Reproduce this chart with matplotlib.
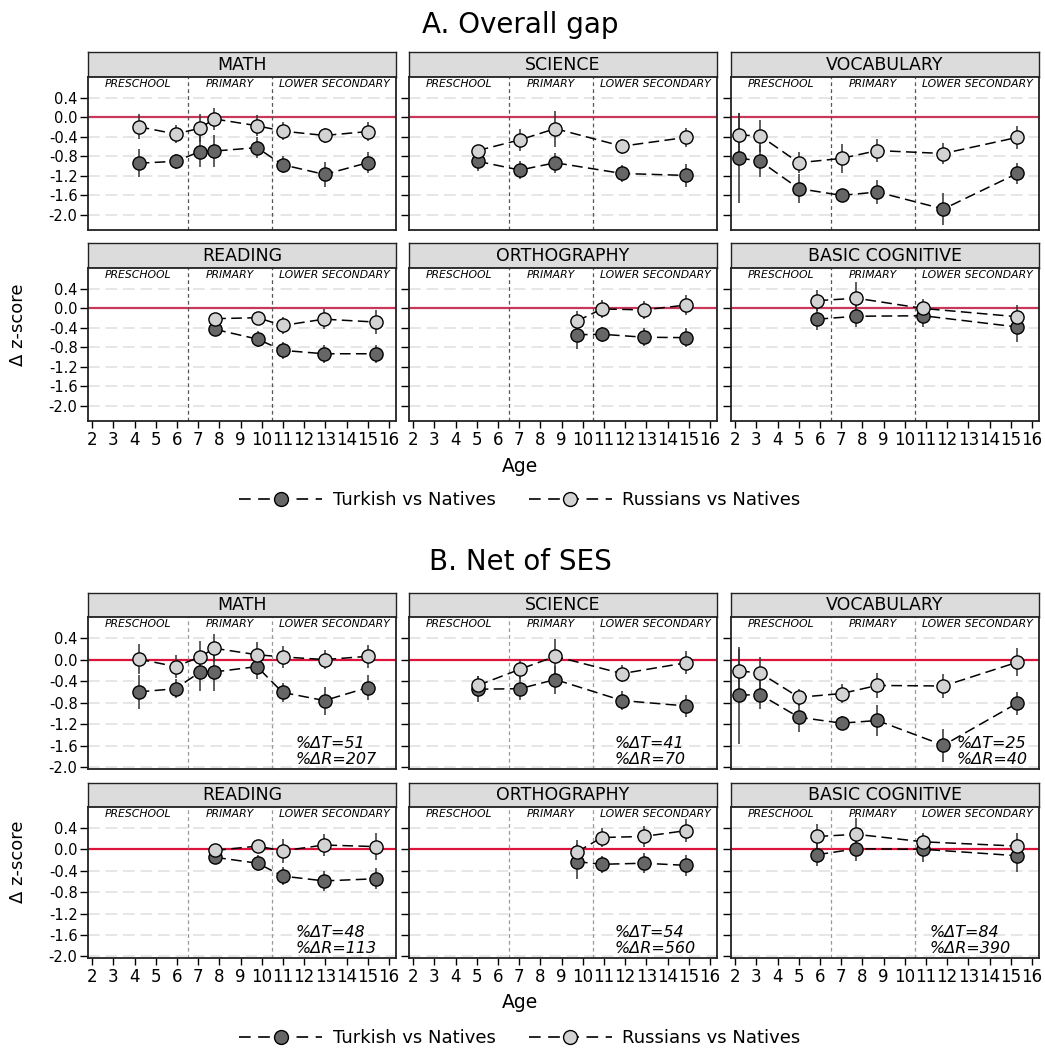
"""Immigrant-native achievement gaps by age, overall and net of SES."""

import numpy as np
import matplotlib
matplotlib.use("Agg")
import matplotlib.pyplot as plt
import matplotlib.transforms as mtransforms
from matplotlib.lines import Line2D

plt.rcParams["font.family"] = ["DejaVu Sans"]

W, H = 1045, 1052

subjects = ["MATH", "SCIENCE", "VOCABULARY", "READING", "ORTHOGRAPHY", "BASIC COGNITIVE"]
age_ticks = list(range(2, 17))
stage_labels = ["PRESCHOOL", "PRIMARY", "LOWER SECONDARY"]
stage_breaks = [6.5, 10.5]
y_ticks = [0.4, 0.0, -0.4, -0.8, -1.2, -1.6, -2.0]

# mean age of each assessment wave
ages = {
    "MATH": [4.19, 5.93, 7.09, 7.75, 9.77, 10.98, 12.96, 14.99],
    "SCIENCE": [5.04, 7.03, 8.70, 11.85, 14.87],
    "VOCABULARY": [2.18, 3.18, 5.00, 7.02, 8.70, 11.82, 15.30],
    "READING": [7.80, 9.80, 10.98, 12.93, 15.40],
    "ORTHOGRAPHY": [9.72, 10.90, 12.87, 14.88],
    "BASIC COGNITIVE": [5.88, 7.72, 10.87, 15.30],
}

# A. overall gap (delta z-score) and CI half-widths
overall_tur = {
    "MATH": [-0.94, -0.90, -0.70, -0.69, -0.62, -0.97, -1.17, -0.93],
    "SCIENCE": [-0.90, -1.08, -0.93, -1.15, -1.19],
    "VOCABULARY": [-0.83, -0.90, -1.46, -1.60, -1.53, -1.88, -1.15],
    "READING": [-0.43, -0.63, -0.86, -0.93, -0.93],
    "ORTHOGRAPHY": [-0.54, -0.53, -0.59, -0.60],
    "BASIC COGNITIVE": [-0.22, -0.16, -0.15, -0.38],
}
overall_tur_err = {
    "MATH": [0.29, 0.16, 0.31, 0.32, 0.21, 0.18, 0.26, 0.22],
    "SCIENCE": [0.20, 0.19, 0.21, 0.17, 0.23],
    "VOCABULARY": [0.93, 0.33, 0.29, 0.10, 0.24, 0.33, 0.21],
    "READING": [0.14, 0.16, 0.18, 0.18, 0.19],
    "ORTHOGRAPHY": [0.30, 0.15, 0.19, 0.20],
    "BASIC COGNITIVE": [0.22, 0.23, 0.24, 0.31],
}
overall_rus = {
    "MATH": [-0.19, -0.34, -0.22, -0.03, -0.17, -0.28, -0.37, -0.29],
    "SCIENCE": [-0.68, -0.46, -0.23, -0.59, -0.41],
    "VOCABULARY": [-0.36, -0.38, -0.93, -0.84, -0.68, -0.74, -0.41],
    "READING": [-0.21, -0.19, -0.35, -0.22, -0.28],
    "ORTHOGRAPHY": [-0.26, -0.01, -0.03, 0.07],
    "BASIC COGNITIVE": [0.16, 0.21, 0.00, -0.17],
}
overall_rus_err = {
    "MATH": [0.26, 0.18, 0.29, 0.22, 0.22, 0.19, 0.16, 0.20],
    "SCIENCE": [0.12, 0.22, 0.37, 0.15, 0.20],
    "VOCABULARY": [0.45, 0.32, 0.22, 0.30, 0.24, 0.21, 0.24],
    "READING": [0.12, 0.12, 0.17, 0.20, 0.25],
    "ORTHOGRAPHY": [0.20, 0.19, 0.19, 0.21],
    "BASIC COGNITIVE": [0.22, 0.34, 0.20, 0.24],
}

# B. gap net of SES
net_tur = {
    "MATH": [-0.60, -0.54, -0.23, -0.23, -0.13, -0.61, -0.76, -0.52],
    "SCIENCE": [-0.55, -0.54, -0.37, -0.76, -0.86],
    "VOCABULARY": [-0.66, -0.65, -1.07, -1.18, -1.13, -1.59, -0.81],
    "READING": [-0.15, -0.26, -0.50, -0.59, -0.55],
    "ORTHOGRAPHY": [-0.23, -0.28, -0.26, -0.30],
    "BASIC COGNITIVE": [-0.10, 0.01, 0.00, -0.12],
}
net_tur_err = {
    "MATH": [0.31, 0.18, 0.35, 0.35, 0.23, 0.18, 0.26, 0.23],
    "SCIENCE": [0.24, 0.21, 0.26, 0.18, 0.21],
    "VOCABULARY": [0.90, 0.26, 0.28, 0.13, 0.29, 0.31, 0.21],
    "READING": [0.13, 0.15, 0.17, 0.18, 0.20],
    "ORTHOGRAPHY": [0.32, 0.16, 0.19, 0.19],
    "BASIC COGNITIVE": [0.21, 0.22, 0.24, 0.31],
}
net_rus = {
    "MATH": [0.01, -0.13, 0.05, 0.21, 0.09, 0.05, 0.00, 0.06],
    "SCIENCE": [-0.48, -0.18, 0.06, -0.26, -0.06],
    "VOCABULARY": [-0.21, -0.25, -0.70, -0.63, -0.48, -0.49, -0.05],
    "READING": [-0.02, 0.06, -0.03, 0.08, 0.05],
    "ORTHOGRAPHY": [-0.05, 0.22, 0.24, 0.35],
    "BASIC COGNITIVE": [0.24, 0.28, 0.14, 0.06],
}
net_rus_err = {
    "MATH": [0.27, 0.22, 0.29, 0.26, 0.23, 0.20, 0.18, 0.21],
    "SCIENCE": [0.18, 0.18, 0.32, 0.16, 0.21],
    "VOCABULARY": [0.40, 0.30, 0.16, 0.18, 0.23, 0.23, 0.26],
    "READING": [0.12, 0.12, 0.23, 0.20, 0.25],
    "ORTHOGRAPHY": [0.23, 0.18, 0.19, 0.21],
    "BASIC COGNITIVE": [0.23, 0.30, 0.17, 0.24],
}

# percent reduction of the gap once SES is controlled
pct_drop_tur = [51, 41, 25, 48, 54, 84]
pct_drop_rus = [207, 70, 40, 113, 560, 390]

TUR_FILL = "#666666"
RUS_FILL = "#d3d3d3"
STRIP_GRAY = "#dcdcdc"

fig = plt.figure(figsize=(W / 100, H / 100), dpi=100)


def px_axes(x0, y0, x1, y1):
    return fig.add_axes([x0 / W, 1 - y1 / H, (x1 - x0) / W, (y1 - y0) / H])


cols = [(88, 396), (409, 717), (731, 1039)]
sections = [
    dict(title="A. Overall gap", title_y=25, rows=[(52, 77, 230), (243, 268, 421)],
         ylim=(-2.31, 0.83), tur=overall_tur, tur_err=overall_tur_err,
         rus=overall_rus, rus_err=overall_rus_err, notes=False,
         age_y=466, leg_y=500, ylab_y=325, sep_color="#555555",
         zero_color="#c9375b"),
    dict(title="B. Net of SES", title_y=562, rows=[(593, 617, 769), (783, 807, 958)],
         ylim=(-2.03, 0.79), tur=net_tur, tur_err=net_tur_err,
         rus=net_rus, rus_err=net_rus_err, notes=True,
         age_y=1003, leg_y=1038, ylab_y=862, sep_color="#999999",
         zero_color="#dc143c"),
]
note_x = [11.58, 11.5, 12.45, 11.58, 11.5, 11.15]


def draw_series(ax, x, y, err, fill):
    y = np.asarray(y)
    err = np.asarray(err)
    ax.vlines(x, y - err, y + err, color="#333333", lw=1.1, zorder=3)
    ax.plot(x, y, color="black", lw=1.1, dashes=(7, 3.5), zorder=4,
            marker="o", ms=9.5, mfc=fill, mec="black", mew=1.0)


for sec in sections:
    fig.text(520 / W, 1 - sec["title_y"] / H, sec["title"], ha="center",
             va="center", fontsize=20)
    for i, subj in enumerate(subjects):
        r, c = divmod(i, 3)
        strip_top, ax_top, ax_bot = sec["rows"][r]
        x0, x1 = cols[c]

        # grey header strip with the subject name
        sax = px_axes(x0, strip_top, x1, ax_top)
        sax.set_facecolor(STRIP_GRAY)
        sax.set_xticks([])
        sax.set_yticks([])
        for sp in sax.spines.values():
            sp.set_color("#222222")
            sp.set_linewidth(1.0)
        sax.text(0.5, 0.5, subj, ha="center", va="center", fontsize=12.5,
                 transform=sax.transAxes)

        ax = px_axes(x0, ax_top, x1, ax_bot)
        ax.set_xlim(1.8, 16.33)
        ax.set_ylim(*sec["ylim"])
        ax.set_yticks(y_ticks)
        for yt in y_ticks:
            ax.axhline(yt, color="#e2e2e2", lw=1.2, dashes=(7, 3.5), zorder=0)
        ax.axhline(0, color=sec["zero_color"], lw=1.6, zorder=1)
        for xb in stage_breaks:
            ax.axvline(xb, color=sec["sep_color"], lw=0.9, dashes=(3, 2.5), zorder=1)

        # school stage labels along the top of the panel
        trans = mtransforms.blended_transform_factory(ax.transData, ax.transAxes)
        edges = [1.8] + stage_breaks + [16.33]
        for k, lab in enumerate(stage_labels):
            ax.text((edges[k] + edges[k + 1]) / 2, 0.955, lab, transform=trans,
                    ha="center", va="center", fontsize=7.8, style="italic")

        draw_series(ax, ages[subj], sec["tur"][subj], sec["tur_err"][subj], TUR_FILL)
        draw_series(ax, ages[subj], sec["rus"][subj], sec["rus_err"][subj], RUS_FILL)

        if sec["notes"]:
            ax.text(note_x[i], -1.705,
                    f"%ΔT={pct_drop_tur[i]}\n%ΔR={pct_drop_rus[i]}",
                    ha="left", va="center", fontsize=11.5, style="italic",
                    linespacing=1.05, zorder=5)

        ax.tick_params(axis="y", direction="out", length=6, width=1.0,
                       pad=1.5, labelsize=10.5)
        if c == 0:
            ax.set_yticklabels([f"{v:.1f}" for v in y_ticks])
        else:
            ax.set_yticklabels([])
        if r == 1:
            ax.set_xticks(age_ticks)
            ax.set_xticklabels([str(a) for a in age_ticks])
            ax.tick_params(axis="x", direction="out", length=5, width=1.0,
                           pad=2, labelsize=12)
        else:
            ax.set_xticks([])
        for sp in ax.spines.values():
            sp.set_color("#222222")
            sp.set_linewidth(1.3)

    fig.text(520 / W, 1 - sec["age_y"] / H, "Age", ha="center", va="center",
             fontsize=13.5)
    fig.text(18 / W, 1 - sec["ylab_y"] / H, "Δ z-score", ha="center",
             va="center", rotation=90, fontsize=13)

    handles = [
        Line2D([], [], color="black", lw=1.2, dashes=(7, 4.5), marker="o", ms=10,
               mfc=TUR_FILL, mec="black", mew=1.0),
        Line2D([], [], color="black", lw=1.2, dashes=(7, 4.5), marker="o", ms=10,
               mfc=RUS_FILL, mec="black", mew=1.0),
    ]
    fig.legend(handles, ["Turkish vs Natives", "Russians vs Natives"],
               loc="center", bbox_to_anchor=(520 / W, 1 - sec["leg_y"] / H),
               ncol=2, frameon=False, fontsize=13, handlelength=4.6,
               handletextpad=0.6, columnspacing=1.8)

fig.savefig("out.png", dpi=100)
